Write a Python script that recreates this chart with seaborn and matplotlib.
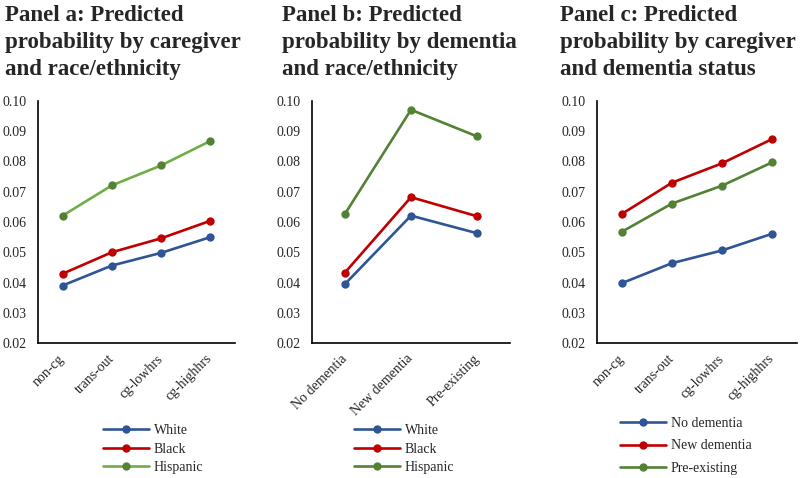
import pandas as pd
import numpy as np
import matplotlib.pyplot as plt
import seaborn as sns

# panel a: caregiver x race/ethnicity
cg_cats = ["non-cg", "trans-out", "cg-lowhrs", "cg-highhrs"]
race_groups = ["White", "Black", "Hispanic"]
a_white = [0.039, 0.0456, 0.0498, 0.055]
a_black = [0.0429, 0.050, 0.0546, 0.0604]
a_hispanic = [0.0621, 0.0721, 0.0787, 0.0868]

# panel b: dementia x race/ethnicity
dem_cats = ["No dementia", "New dementia", "Pre-existing"]
b_white = [0.0395, 0.0621, 0.0563]
b_black = [0.0433, 0.0682, 0.0619]
b_hispanic = [0.0627, 0.0971, 0.0883]

# panel c: caregiver x dementia status
dem_groups = ["No dementia", "New dementia", "Pre-existing"]
c_nodem = [0.0398, 0.0464, 0.0506, 0.0561]
c_newdem = [0.0627, 0.0730, 0.0794, 0.0874]
c_preex = [0.0568, 0.0661, 0.0720, 0.0797]

titles = ["Panel a: Predicted\nprobability by caregiver\nand race/ethnicity",
          "Panel b: Predicted\nprobability by dementia\nand race/ethnicity",
          "Panel c: Predicted\nprobability by caregiver\nand dementia status"]

blue = "#2F5597"
red = "#C00000"
green_light = "#70AD47"
green_dark = "#548235"

sns.set_style("white")
plt.rcParams['font.family'] = ['Liberation Serif', 'DejaVu Serif']


def long_df(cats, groups, series):
    rows = []
    for g, vals in zip(groups, series):
        for c, v in zip(cats, vals):
            rows.append({"cat": c, "group": g, "prob": v})
    return pd.DataFrame(rows)


df_a = long_df(cg_cats, race_groups, [a_white, a_black, a_hispanic])
df_b = long_df(dem_cats, race_groups, [b_white, b_black, b_hispanic])
df_c = long_df(cg_cats, dem_groups, [c_nodem, c_newdem, c_preex])

fig = plt.figure(figsize=(8, 4.78), dpi=100)
W, H = 800, 478

panels = [
    (df_a, cg_cats, race_groups, [blue, red, green_light], 38, 235, 5, (103, 433), 0.40),
    (df_b, dem_cats, race_groups, [blue, red, green_dark], 312, 510, 282, (354, 433), 0.40),
    (df_c, cg_cats, dem_groups, [blue, red, green_dark], 597, 797, 560, (620, 426), 0.68),
]

yt = np.arange(0.02, 0.1001, 0.01)

for i, (df, cats, groups, colors, x0, x1, tx, leg_xy, lspace) in enumerate(panels):
    ax = fig.add_axes([x0 / W, 1 - 343 / H, (x1 - x0) / W, 242 / H])
    sns.lineplot(data=df, x="cat", y="prob", hue="group", hue_order=groups,
                 palette=colors, marker="o", markersize=6, linewidth=1.9,
                 markeredgewidth=0, sort=False, legend=False, ax=ax)
    lines = ax.get_lines()
    if i == 0:
        # lighter line, darker markers for Hispanic in panel a
        lines[2].set_markerfacecolor(green_dark)
        lines[2].set_markeredgecolor(green_dark)
    ax.set_xlim(-0.5, len(cats) - 0.5)
    ax.set_ylim(0.02, 0.10)
    ax.set_yticks(yt)
    ax.set_yticklabels([f"{v:.2f}" for v in yt])
    ax.set_xticks(range(len(cats)))
    ax.set_xticklabels(cats, rotation=45, ha="right", rotation_mode="anchor", va="center")
    ax.tick_params(axis="y", length=0, pad=8, labelsize=10)
    ax.tick_params(axis="x", length=0, pad=10, labelsize=10)
    ax.set_xlabel("")
    ax.set_ylabel("")
    sns.despine(ax=ax)
    for s in ["left", "bottom"]:
        ax.spines[s].set_color("black")
        ax.spines[s].set_linewidth(1.2)
    ax.legend(handles=lines, labels=groups, loc="upper left",
              bbox_to_anchor=(leg_xy[0] / W, 1 - (leg_xy[1] - 9) / H),
              bbox_transform=fig.transFigure, frameon=False, fontsize=10,
              handlelength=3.3, handletextpad=0.35, labelspacing=lspace,
              borderpad=0, borderaxespad=0)
    fig.text(tx / W, 1 - 75 / H, titles[i], ha="left", va="baseline",
             fontsize=16.5, fontweight="bold", linespacing=1.36)

plt.savefig("out.png", dpi=100)
